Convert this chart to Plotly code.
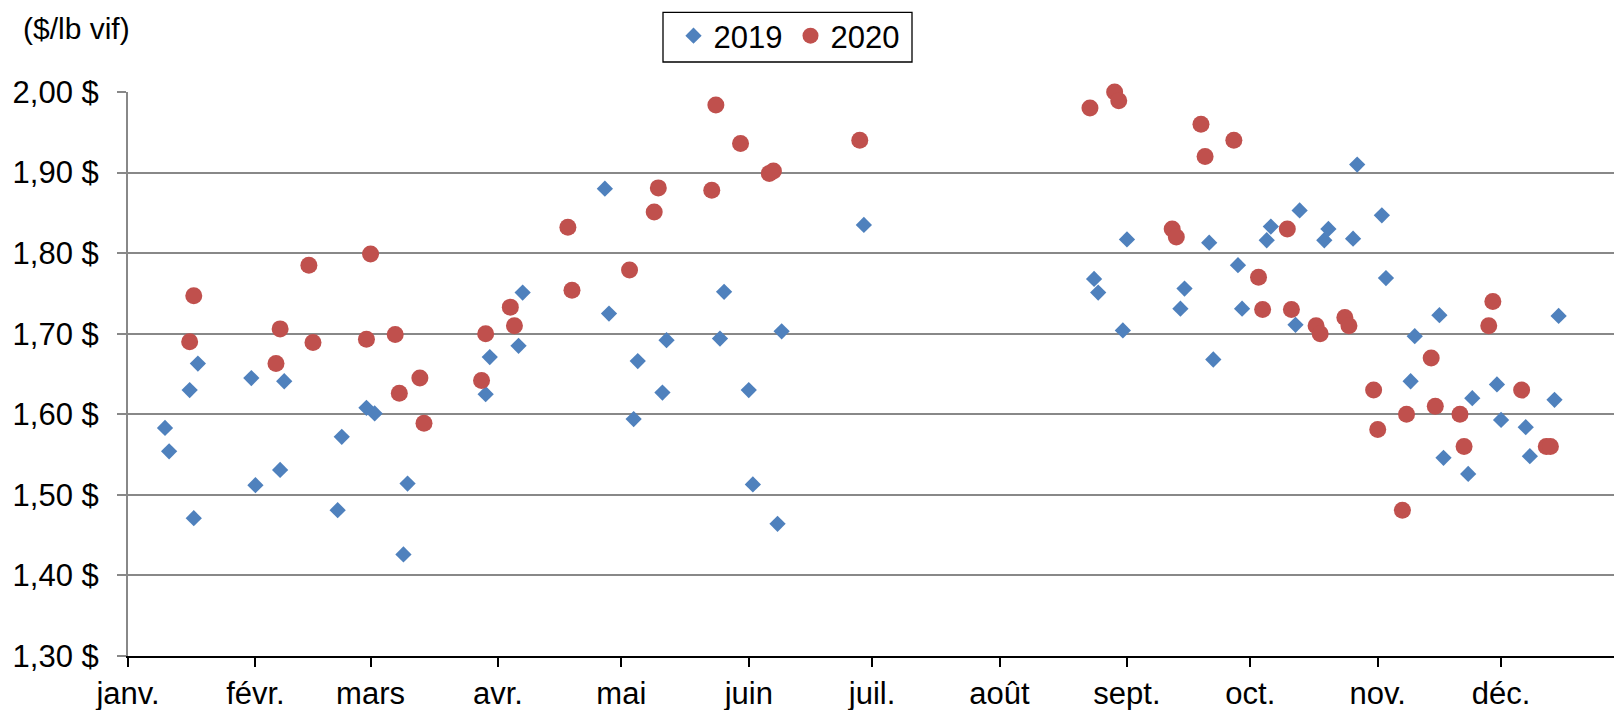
import plotly.graph_objects as go

# ---- data ----
dates_2019 = [
    "2019-01-10", "2019-01-11", "2019-01-16", "2019-01-17", "2019-01-18",
    "2019-01-31", "2019-02-01", "2019-02-07", "2019-02-08", "2019-02-21",
    "2019-02-22", "2019-02-28", "2019-03-02", "2019-03-09", "2019-03-10",
    "2019-03-29", "2019-03-30", "2019-04-06", "2019-04-07", "2019-04-27",
    "2019-04-28", "2019-05-04", "2019-05-05", "2019-05-11", "2019-05-12",
    "2019-05-25", "2019-05-26", "2019-06-01", "2019-06-02", "2019-06-08",
    "2019-06-09", "2019-06-29", "2019-08-24", "2019-08-25", "2019-08-31",
    "2019-09-01", "2019-09-14", "2019-09-15", "2019-09-21", "2019-09-22",
    "2019-09-28", "2019-09-29", "2019-10-05", "2019-10-06", "2019-10-12",
    "2019-10-13", "2019-10-19", "2019-10-20", "2019-10-26", "2019-10-27",
    "2019-11-02", "2019-11-03", "2019-11-09", "2019-11-10", "2019-11-16",
    "2019-11-17", "2019-11-23", "2019-11-24", "2019-11-30", "2019-12-01",
    "2019-12-07", "2019-12-08", "2019-12-14", "2019-12-15",
]
prices_2019 = [
    1.583, 1.554, 1.630, 1.471, 1.663,
    1.645, 1.512, 1.531, 1.641, 1.481,
    1.572, 1.608, 1.601, 1.426, 1.514,
    1.625, 1.671, 1.685, 1.751, 1.880,
    1.725, 1.594, 1.666, 1.627, 1.692,
    1.694, 1.752, 1.630, 1.513, 1.464,
    1.703, 1.835, 1.768, 1.751, 1.704,
    1.817, 1.731, 1.756, 1.813, 1.668,
    1.785, 1.731, 1.816, 1.833, 1.711,
    1.853, 1.816, 1.830, 1.818, 1.910,
    1.847, 1.769, 1.641, 1.697, 1.723,
    1.546, 1.526, 1.620, 1.637, 1.593,
    1.584, 1.548, 1.618, 1.722,
]

# 2020 weeks plotted on the same calendar (month/day) axis
dates_2020 = [
    "2019-01-16", "2019-01-17", "2019-02-06", "2019-02-07", "2019-02-14",
    "2019-02-15", "2019-02-28", "2019-03-01", "2019-03-07", "2019-03-08",
    "2019-03-13", "2019-03-14", "2019-03-28", "2019-03-29", "2019-04-04",
    "2019-04-05", "2019-04-18", "2019-04-19", "2019-05-03", "2019-05-09",
    "2019-05-10", "2019-05-23", "2019-05-24", "2019-05-30", "2019-06-06",
    "2019-06-07", "2019-06-28", "2019-08-23", "2019-08-29", "2019-08-30",
    "2019-09-12", "2019-09-13", "2019-09-19", "2019-09-20", "2019-09-27",
    "2019-10-03", "2019-10-04", "2019-10-10", "2019-10-11", "2019-10-17",
    "2019-10-18", "2019-10-24", "2019-10-25", "2019-10-31", "2019-11-01",
    "2019-11-07", "2019-11-08", "2019-11-14", "2019-11-15", "2019-11-21",
    "2019-11-22", "2019-11-28", "2019-11-29", "2019-12-06", "2019-12-12",
    "2019-12-13",
]
prices_2020 = [
    1.690, 1.747, 1.663, 1.706, 1.785,
    1.689, 1.693, 1.799, 1.699, 1.626,
    1.645, 1.589, 1.642, 1.700, 1.733,
    1.710, 1.832, 1.754, 1.779, 1.851,
    1.881, 1.878, 1.984, 1.936, 1.899,
    1.902, 1.940, 1.980, 2.000, 1.989,
    1.830, 1.820, 1.960, 1.920, 1.940,
    1.770, 1.730, 1.830, 1.730, 1.710,
    1.700, 1.720, 1.710, 1.630, 1.581,
    1.481, 1.600, 1.670, 1.610, 1.600,
    1.560, 1.710, 1.740, 1.630, 1.560,
    1.560,
]

month_ticks = ["2019-01-01", "2019-02-01", "2019-03-01", "2019-04-01",
               "2019-05-01", "2019-06-01", "2019-07-01", "2019-08-01",
               "2019-09-01", "2019-10-01", "2019-11-01", "2019-12-01"]
month_labels = ["janv.", "févr.", "mars", "avr.", "mai", "juin", "juil.",
                "août", "sept.", "oct.", "nov.", "déc."]

y_ticks = [1.30, 1.40, 1.50, 1.60, 1.70, 1.80, 1.90, 2.00]
y_labels = ["1,30 $", "1,40 $", "1,50 $", "1,60 $", "1,70 $", "1,80 $",
            "1,90 $", "2,00 $"]

FONT = "Liberation Sans, Arial, sans-serif"
FS = 31

# the page body has an 8px margin: figure drawn at (8, 8) in the window
W, H = 1614, 702
ML, MT, MB, MR = 120, 84, 54, 0
PW, PH = W - ML - MR, H - MT - MB


def px_x(page_x):
    return (page_x - 8 - ML) / PW


def px_y(page_y):
    return 1 - (page_y - 8 - MT) / PH


fig = go.Figure()
fig.add_trace(go.Scatter(
    x=dates_2019, y=prices_2019, mode="markers", name="2019", cliponaxis=False,
    marker=dict(symbol="diamond", size=12.5, color="#4F81BD", line=dict(width=0)),
))
fig.add_trace(go.Scatter(
    x=dates_2020, y=prices_2020, mode="markers", name="2020", cliponaxis=False,
    marker=dict(symbol="circle", size=17, color="#C0504D", line=dict(width=0)),
))

fig.update_layout(
    width=W, height=H,
    margin=dict(l=ML, r=MR, t=MT, b=MB, autoexpand=False),
    paper_bgcolor="white", plot_bgcolor="white",
    font=dict(family=FONT, size=FS, color="black"),
    showlegend=True,
    legend=dict(
        orientation="h", x=px_x(673.5), y=px_y(9),
        xanchor="left", yanchor="top",
        borderwidth=0, bgcolor="rgba(0,0,0,0)",
        font=dict(family=FONT, size=FS, color="black"),
        itemwidth=30, entrywidth=72, tracegroupgap=0,
    ),
    shapes=[dict(
        type="rect", xref="paper", yref="paper",
        x0=px_x(663), x1=px_x(912), y0=px_y(62), y1=px_y(12.3),
        line=dict(color="black", width=1.3), fillcolor="rgba(0,0,0,0)",
    )],
    xaxis=dict(
        type="date",
        range=["2019-01-01", "2019-12-30 10:00"],
        tickmode="array", tickvals=month_ticks, ticktext=month_labels,
        showgrid=False, zeroline=False,
        showline=True, linecolor="black", linewidth=2,
        ticks="outside", ticklen=9, tickwidth=1.5, tickcolor="black",
        tickfont=dict(family=FONT, size=FS, color="black"),
    ),
    yaxis=dict(
        range=[1.30, 2.00],
        tickmode="array", tickvals=y_ticks, ticktext=y_labels,
        showgrid=True, gridcolor="#888888", gridwidth=1.7,
        zeroline=False,
        showline=True, linecolor="#888888", linewidth=2,
        ticks="outside", ticklen=9, tickwidth=1.7, tickcolor="#888888",
        tickfont=dict(family=FONT, size=FS, color="black"),
        ticklabelstandoff=12,
    ),
    annotations=[dict(
        text="($/lb vif)", xref="paper", yref="paper",
        x=px_x(20.7), y=px_y(28.5),
        xanchor="left", yanchor="middle", showarrow=False,
        font=dict(family=FONT, size=30, color="black"),
    )],
)

fig.write_html("out.html")
